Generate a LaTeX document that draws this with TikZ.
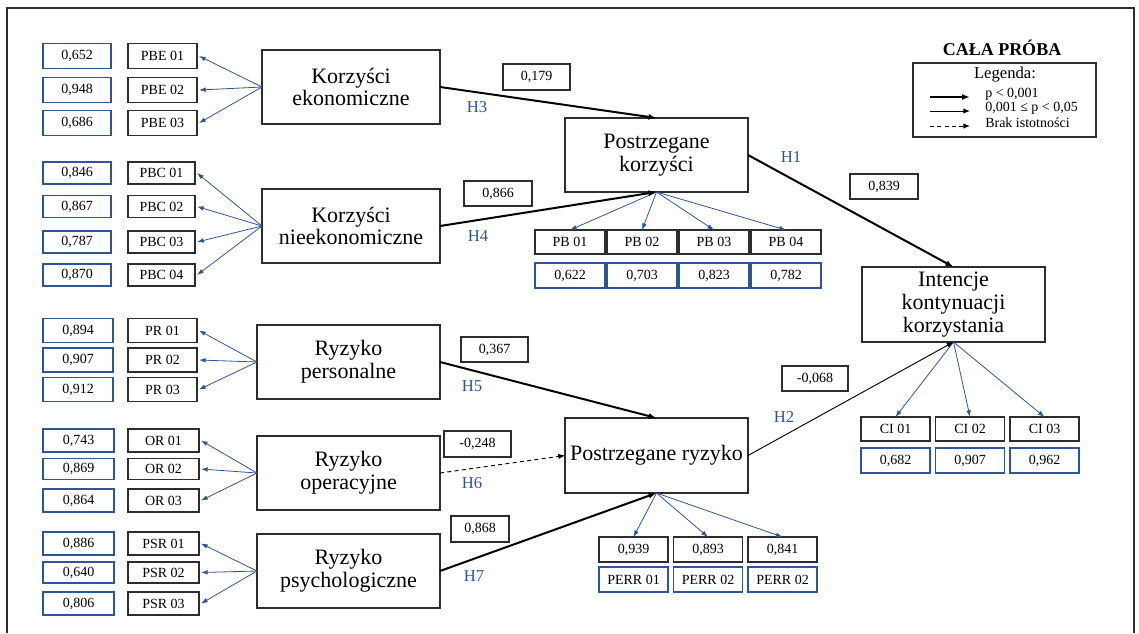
\documentclass[tikz,border=0pt]{standalone}
\usepackage{fontspec}
\setmainfont{Liberation Serif}
\usetikzlibrary{arrows.meta}
\definecolor{bl}{RGB}{47,85,151}
\definecolor{dk}{RGB}{45,45,45}
\begin{document}
\begin{tikzpicture}[x=0.75pt,y=-0.75pt,
  sz/.style 2 args={minimum width=#1*0.75pt, minimum height=#2*0.75pt},
  base/.style={inner sep=0pt, outer sep=0pt, align=center},
  lat/.style={base, draw=dk, line width=0.9pt, font=\fontsize{16.5}{17}\selectfont},
  ind/.style={base, draw=dk, line width=0.9pt, font=\fontsize{10.5}{12}\selectfont},
  val/.style={base, draw=bl, line width=0.9pt, font=\fontsize{10.5}{12}\selectfont},
  wt/.style={base, draw=dk, line width=0.9pt, font=\fontsize{10.5}{12}\selectfont},
  hl/.style={text=bl, font=\fontsize{12.5}{14}\selectfont},
  load/.style={draw=bl, line width=0.6pt, -{Latex[length=5pt,width=3.5pt]}},
  strong/.style={draw=black, line width=1.5pt, -{Latex[length=6pt,width=4.5pt]}},
  weak/.style={draw=black, line width=0.7pt, -{Latex[length=5pt,width=4pt]}},
  ns/.style={draw=black, line width=0.7pt, dash pattern=on 3pt off 2.5pt, -{Latex[length=5pt,width=4pt]}},
]
\useasboundingbox (0,0) rectangle (1139,633);
\draw[dk, line width=1.1pt] (7,633) -- (7,8) -- (1134,8) -- (1134,633);

% ---------- latent constructs
\node[lat,sz={178}{74}] (ke) at (351,87) {Korzyści\\ekonomiczne};
\node[lat,sz={178}{74}] (kn) at (351,226) {Korzyści\\nieekonomiczne};
\node[lat,sz={183}{74}] (rp) at (348.5,362) {Ryzyko\\personalne};
\node[lat,sz={183}{74}] (ro) at (348.5,473) {Ryzyko\\operacyjne};
\node[lat,sz={183}{74}] (rs) at (348.5,571) {Ryzyko\\psychologiczne};
\node[lat,sz={183}{74}] (pk) at (656.5,155) {Postrzegane\\korzyści};
\node[lat,sz={183}{75}] (pr) at (656.5,455.5) {Postrzegane ryzyko};
\node[lat,sz={183}{75}] (ik) at (953.5,304.5) {Intencje\\kontynuacji\\korzystania};

% ---------- PBE
\node[val,sz={68}{25}] (v1) at (77,56) {0,652};
\node[val,sz={68}{25}] (v2) at (77,90) {0,948};
\node[val,sz={68}{25}] (v3) at (77,123) {0,686};
\node[ind,sz={69}{25}] (i1) at (162.5,56) {PBE 01};
\node[ind,sz={69}{25}] (i2) at (162.5,90) {PBE 02};
\node[ind,sz={69}{25}] (i3) at (162.5,123) {PBE 03};
% ---------- PBC
\node[val,sz={68}{22}] (v4) at (77,173) {0,846};
\node[val,sz={68}{22}] (v5) at (77,206.5) {0,867};
\node[val,sz={68}{22}] (v6) at (77,242) {0,787};
\node[val,sz={68}{22}] (v7) at (77,275) {0,870};
\node[ind,sz={67}{22}] (i4) at (161.5,173) {PBC 01};
\node[ind,sz={67}{22}] (i5) at (161.5,206.5) {PBC 02};
\node[ind,sz={67}{22}] (i6) at (161.5,242) {PBC 03};
\node[ind,sz={67}{22}] (i7) at (161.5,275) {PBC 04};
% ---------- PR
\node[val,sz={70}{24}] (v8) at (78,330.5) {0,894};
\node[val,sz={70}{24}] (v9) at (78,360) {0,907};
\node[val,sz={70}{24}] (v10) at (78,389.5) {0,912};
\node[ind,sz={69}{24}] (i8) at (162.5,330.5) {PR 01};
\node[ind,sz={69}{24}] (i9) at (162.5,360) {PR 02};
\node[ind,sz={69}{24}] (i10) at (162.5,389.5) {PR 03};
% ---------- OR
\node[val,sz={71}{23}] (v11) at (78.5,440.5) {0,743};
\node[val,sz={71}{21}] (v12) at (78.5,469) {0,869};
\node[val,sz={71}{23}] (v13) at (78.5,500.5) {0,864};
\node[ind,sz={71}{23}] (i11) at (163.5,440.5) {OR 01};
\node[ind,sz={71}{21}] (i12) at (163.5,469) {OR 02};
\node[ind,sz={71}{23}] (i13) at (163.5,500.5) {OR 03};
% ---------- PSR
\node[val,sz={71}{23}] (v14) at (78.5,543.5) {0,886};
\node[val,sz={71}{21}] (v15) at (78.5,572.5) {0,640};
\node[val,sz={71}{23}] (v16) at (78.5,603.5) {0,806};
\node[ind,sz={71}{23}] (i14) at (163.5,543.5) {PSR 01};
\node[ind,sz={71}{21}] (i15) at (163.5,572.5) {PSR 02};
\node[ind,sz={71}{23}] (i16) at (163.5,603.5) {PSR 03};

% ---------- PB
\node[ind,sz={70}{24}] (pb1) at (570,242) {PB 01};
\node[ind,sz={70}{24}] (pb2) at (642,242) {PB 02};
\node[ind,sz={70}{24}] (pb3) at (714,242) {PB 03};
\node[ind,sz={70}{24}] (pb4) at (786,242) {PB 04};
\node[val,sz={70}{25}] (pv1) at (570,275.5) {0,622};
\node[val,sz={70}{25}] (pv2) at (642,275.5) {0,703};
\node[val,sz={70}{25}] (pv3) at (714,275.5) {0,823};
\node[val,sz={70}{25}] (pv4) at (786,275.5) {0,782};
% ---------- PERR
\node[ind,sz={69}{25}] (rv1) at (633.5,549.5) {0,939};
\node[ind,sz={69}{25}] (rv2) at (708,549.5) {0,893};
\node[ind,sz={69}{25}] (rv3) at (782.5,549.5) {0,841};
\node[val,sz={69}{25}] (rl1) at (633.5,579.5) {PERR 01};
\node[val,sz={69}{25}] (rl2) at (708,579.5) {PERR 02};
\node[val,sz={69}{25}] (rl3) at (782.5,579.5) {PERR 02};
% ---------- CI
\node[ind,sz={69}{24}] (ci1) at (895.5,429) {CI 01};
\node[ind,sz={69}{24}] (ci2) at (970,429) {CI 02};
\node[ind,sz={69}{24}] (ci3) at (1044.5,429) {CI 03};
\node[val,sz={69}{25}] (cv1) at (895.5,460.5) {0,682};
\node[val,sz={69}{25}] (cv2) at (970,460.5) {0,907};
\node[val,sz={69}{25}] (cv3) at (1044.5,460.5) {0,962};

% ---------- path weights
\node[wt,sz={67}{26}] (w3) at (536.5,77) {0,179};
\node[wt,sz={68}{25}] (w4) at (498,193.5) {0,866};
\node[wt,sz={68}{25}] (w1) at (884,186.5) {0,839};
\node[wt,sz={67}{25}] (w5) at (494.5,349.5) {0,367};
\node[wt,sz={67}{26}] (w6) at (477.5,444) {-0,248};
\node[wt,sz={58}{26}] (w7) at (480,529) {0,868};
\node[wt,sz={66}{25}] (w2) at (815,378.5) {-0,068};

% ---------- hypothesis labels
\node[hl] (h3) at (477,107) {H3};
\node[hl] (h4) at (478,236) {H4};
\node[hl] (h1) at (791,157) {H1};
\node[hl] (h5) at (472,386) {H5};
\node[hl] (h6) at (472,483) {H6};
\node[hl] (h7) at (474,576) {H7};
\node[hl] (h2) at (784,417) {H2};

% ---------- loadings arrows
\foreach \n in {1,2,3} \draw[load] (ke.west) -- ([xshift=1.5pt]i\n.east);
\foreach \n in {4,5,6,7} \draw[load] (kn.west) -- ([xshift=1.5pt]i\n.east);
\foreach \n in {8,9,10} \draw[load] (rp.west) -- ([xshift=1.5pt]i\n.east);
\foreach \n in {11,12,13} \draw[load] (ro.west) -- ([xshift=1.5pt]i\n.east);
\foreach \n in {14,15,16} \draw[load] (rs.west) -- ([xshift=1.5pt]i\n.east);
\foreach \n in {1,2,3,4} \draw[load] (pk.south) -- (pb\n.north);
\foreach \n in {1,2,3} \draw[load] (pr.south) -- (rv\n.north);
\foreach \n in {1,2,3} \draw[load] (ik.south) -- (ci\n.north);

% ---------- structural paths
\draw[strong] (ke.east) -- (pk.north);
\draw[strong] (kn.east) -- (pk.south);
\draw[strong] (pk.east) -- (ik.north);
\draw[strong] (rp.east) -- (pr.north);
\draw[ns] (ro.east) -- (pr.west);
\draw[strong] (rs.east) -- (pr.south);
\draw[weak] (pr.east) -- (ik.south);

% ---------- legend
\node[font=\bfseries\fontsize{13.5}{15}\selectfont] (title) at (1002,48) {CAŁA PRÓBA};
\node[base,draw=dk,line width=0.9pt,sz={183}{74}] (leg) at (1004.5,100) {};
\node[font=\fontsize{12.5}{14}\selectfont] (legt) at (1005,75) {Legenda:};
\coordinate (la1) at (930,97);  \coordinate (lb1) at (970,97);
\coordinate (la2) at (930,111); \coordinate (lb2) at (970,111);
\coordinate (la3) at (930,126); \coordinate (lb3) at (970,126);
\draw[strong] (la1) -- (lb1);
\draw[weak] (la2) -- (lb2);
\draw[ns] (la3) -- (lb3);
\node[anchor=west,inner sep=0pt,font=\fontsize{10.5}{12}\selectfont] (lt1) at (985,94) {p < 0,001};
\node[anchor=west,inner sep=0pt,font=\fontsize{10.5}{12}\selectfont] (lt2) at (985,108) {0,001 ≤ p < 0,05};
\node[anchor=west,inner sep=0pt,font=\fontsize{10.5}{12}\selectfont] (lt3) at (985,123) {Brak istotności};
\end{tikzpicture}
\end{document}
